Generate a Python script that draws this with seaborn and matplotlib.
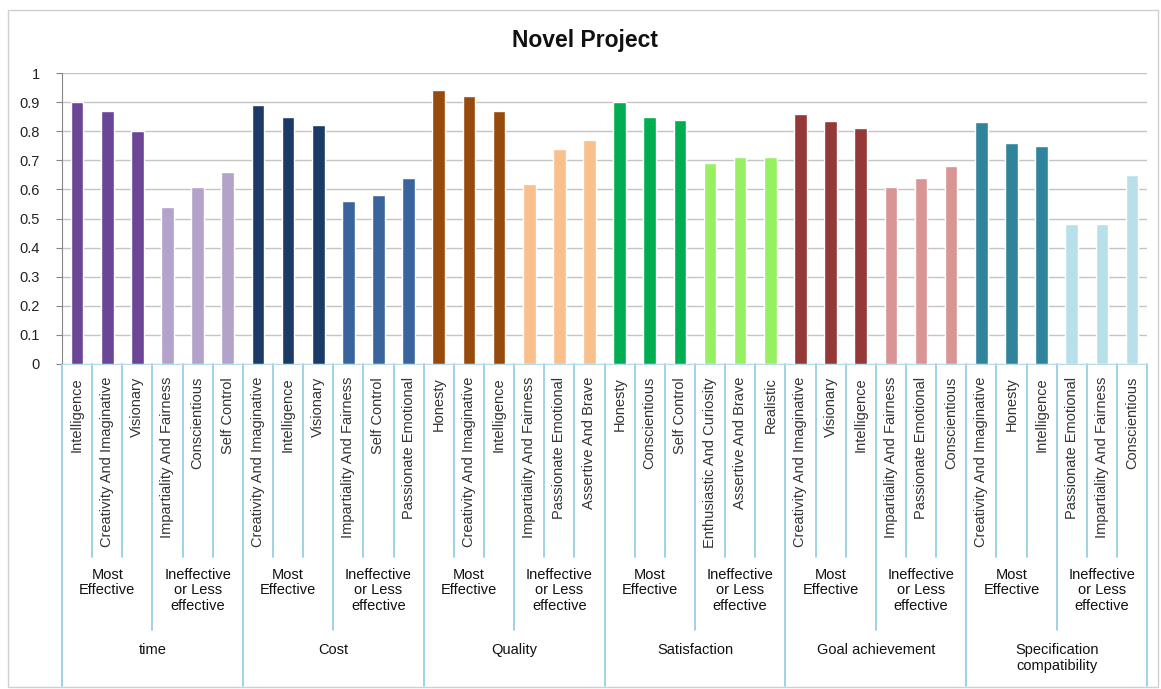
import matplotlib
matplotlib.use("Agg")
import matplotlib.pyplot as plt
from matplotlib.patches import Rectangle
import pandas as pd
import seaborn as sns

# --- data ---
GROUPS = ["time", "Cost", "Quality", "Satisfaction", "Goal achievement",
          "Specification\ncompatibility"]
SUBGROUPS = ["Most\nEffective", "Ineffective\nor Less\neffective"]

TRAITS = [
    # time
    "Intelligence", "Creativity And Imaginative", "Visionary",
    "Impartiality And Fairness", "Conscientious", "Self Control",
    # Cost
    "Creativity And Imaginative", "Intelligence", "Visionary",
    "Impartiality And Fairness", "Self Control", "Passionate Emotional",
    # Quality
    "Honesty", "Creativity And Imaginative", "Intelligence",
    "Impartiality And Fairness", "Passionate Emotional", "Assertive And Brave",
    # Satisfaction
    "Honesty", "Conscientious", "Self Control",
    "Enthusiastic And Curiosity", "Assertive And Brave", "Realistic",
    # Goal achievement
    "Creativity And Imaginative", "Visionary", "Intelligence",
    "Impartiality And Fairness", "Passionate Emotional", "Conscientious",
    # Specification compatibility
    "Creativity And Imaginative", "Honesty", "Intelligence",
    "Passionate Emotional", "Impartiality And Fairness", "Conscientious",
]

SCORES = [
    0.90, 0.87, 0.80, 0.54, 0.61, 0.66,
    0.89, 0.85, 0.82, 0.56, 0.58, 0.64,
    0.94, 0.92, 0.87, 0.62, 0.74, 0.77,
    0.90, 0.85, 0.84, 0.69, 0.71, 0.71,
    0.86, 0.835, 0.81, 0.61, 0.64, 0.68,
    0.83, 0.76, 0.75, 0.48, 0.48, 0.65,
]

# (most effective, less effective) colour per group
GROUP_COLORS = [
    ("#6b4596", "#b3a2c9"),
    ("#1b3a66", "#3a659c"),
    ("#964a0c", "#f9bf8d"),
    ("#00ad50", "#97ef62"),
    ("#953838", "#d99594"),
    ("#2f849c", "#b8e0ea"),
]

colors = []
for most, less in GROUP_COLORS:
    colors += [most] * 3 + [less] * 3

df = pd.DataFrame({"pos": [str(i) for i in range(len(SCORES))], "score": SCORES})

sns.set_style("white")
plt.rcParams["font.family"] = ["Liberation Sans", "DejaVu Sans"]

fig = plt.figure(figsize=(11.61, 6.89), dpi=100)
ax = fig.add_axes([0.0534, 0.4717, 0.9346, 0.4223])

sns.barplot(data=df, x="pos", y="score", hue="pos", palette=colors,
            legend=False, width=0.42, saturation=1, ax=ax, zorder=3)

ax.set_ylim(0, 1)
ax.set_xlim(-0.5, len(SCORES) - 0.5)
ax.set_yticks([i / 10 for i in range(11)])
ax.set_yticklabels(["0"] + [f"0.{i}" for i in range(1, 10)] + ["1"],
                   fontsize=10.5, color="#222222")
ax.yaxis.grid(True, color="#c4c4c4", linewidth=1.0, zorder=0)
ax.set_axisbelow(True)
ax.set_xticks([])
ax.set_xlabel("")
ax.set_ylabel("")
ax.tick_params(axis="y", left=True, length=4, color="#868686", pad=12)
for side in ["top", "right"]:
    ax.spines[side].set_visible(False)
ax.spines["left"].set_color("#868686")
ax.spines["bottom"].set_color("#b9dcea")

fig.text(0.504, 1 - 40 / 689, "Novel Project", ha="center", va="center",
         fontsize=16.5, fontweight="bold", color="#111111")

# multi-level category axis
tr = ax.get_xaxis_transform()
sep_color = "#8ccbe0"
for i, name in enumerate(TRAITS):
    ax.text(i, -0.045, name, rotation=90, ha="center", va="top",
            fontsize=10.5, color="#333333", transform=tr)

for k in range(len(SCORES) + 1):
    x = k - 0.5
    if k % 6 == 0:
        y_end = -1.105
    elif k % 3 == 0:
        y_end = -0.915
    else:
        y_end = -0.665
    ax.plot([x, x], [0, y_end], color=sep_color, linewidth=1.2,
            transform=tr, clip_on=False)

for g, group in enumerate(GROUPS):
    for s, sub in enumerate(SUBGROUPS):
        center = g * 6 + s * 3 + 1
        ax.text(center, -0.70, sub, ha="center", va="top", fontsize=10.5,
                color="#111111", linespacing=1.15, transform=tr)
    ax.text(g * 6 + 2.5, -0.96, group, ha="center", va="top", fontsize=10.5,
            color="#111111", linespacing=1.15, transform=tr)

# chart border
fig.patches.append(Rectangle((0.007, 0.003), 0.99, 0.982, transform=fig.transFigure,
                             fill=False, edgecolor="#d0d0d0", linewidth=1))

fig.savefig("out.png", dpi=100)
